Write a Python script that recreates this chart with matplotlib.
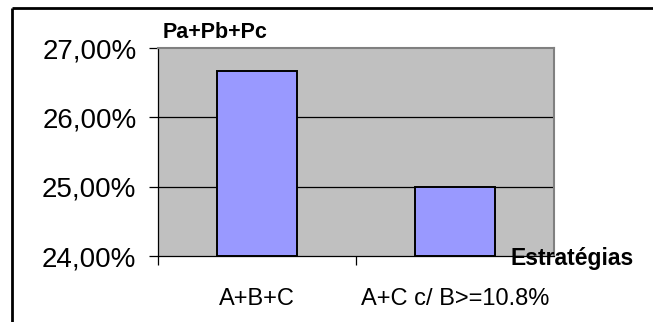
import matplotlib
matplotlib.use("Agg")
import matplotlib.pyplot as plt
from matplotlib.lines import Line2D
from matplotlib.ticker import FuncFormatter, FixedLocator

plt.rcParams['font.family'] = ['Liberation Sans', 'DejaVu Sans']

categories = ["A+B+C", "A+C c/ B>=10.8%"]
values = [26.67, 25.00]
y_ticks = [24, 25, 26, 27]

W, H = 653, 322
fig = plt.figure(figsize=(W / 100, H / 100), dpi=100)
fig.patch.set_facecolor('white')

# outer border (top and left only visible)
fig.add_artist(Line2D([12.5 / W, 1.0], [1 - 7.5 / H, 1 - 7.5 / H], transform=fig.transFigure,
                      color='black', lw=2.0, solid_capstyle='butt'))
fig.add_artist(Line2D([12.5 / W, 12.5 / W], [0, 1 - 7.5 / H], transform=fig.transFigure,
                      color='black', lw=2.0, solid_capstyle='butt'))

left, right, top, bottom = 158, 554, 48, 256
ax = fig.add_axes([left / W, 1 - bottom / H, (right - left) / W, (bottom - top) / H])
ax.set_facecolor('#C0C0C0')

x = list(range(len(categories)))
ax.bar(x, [v - y_ticks[0] for v in values], bottom=y_ticks[0], width=0.404,
       color='#9999FF', edgecolor='black', linewidth=1.4, zorder=3)

ax.set_xlim(-0.5, len(categories) - 0.5)
ax.set_ylim(y_ticks[0], y_ticks[-1])

for yv in y_ticks[1:-1]:
    ax.axhline(yv, color='black', lw=0.9, zorder=2)

ax.set_yticks(y_ticks)
ax.yaxis.set_major_formatter(FuncFormatter(lambda v, p: f"{v:.2f}".replace('.', ',') + "%"))
ax.tick_params(axis='y', direction='out', length=6.5, width=0.9, pad=9, labelsize=20, colors='black')

ax.set_xticks(x)
ax.set_xticklabels(categories)
ax.tick_params(axis='x', which='major', length=0, pad=23, labelsize=17)
ax.xaxis.set_minor_locator(FixedLocator([-0.5, 0.5]))
ax.tick_params(axis='x', which='minor', direction='out', length=6.5, width=0.9)

for s in ['top', 'right']:
    ax.spines[s].set_color('#808080')
    ax.spines[s].set_linewidth(1.5)
for s in ['left', 'bottom']:
    ax.spines[s].set_color('black')
    ax.spines[s].set_linewidth(0.9)

fig.text(163 / W, 1 - 32 / H, "Pa+Pb+Pc", fontsize=15.5, fontweight='bold', ha='left', va='center')
fig.text(510 / W, 1 - 258 / H, "Estratégias", fontsize=16.5, fontweight='bold', ha='left', va='center')

fig.savefig("out.png", dpi=100)
